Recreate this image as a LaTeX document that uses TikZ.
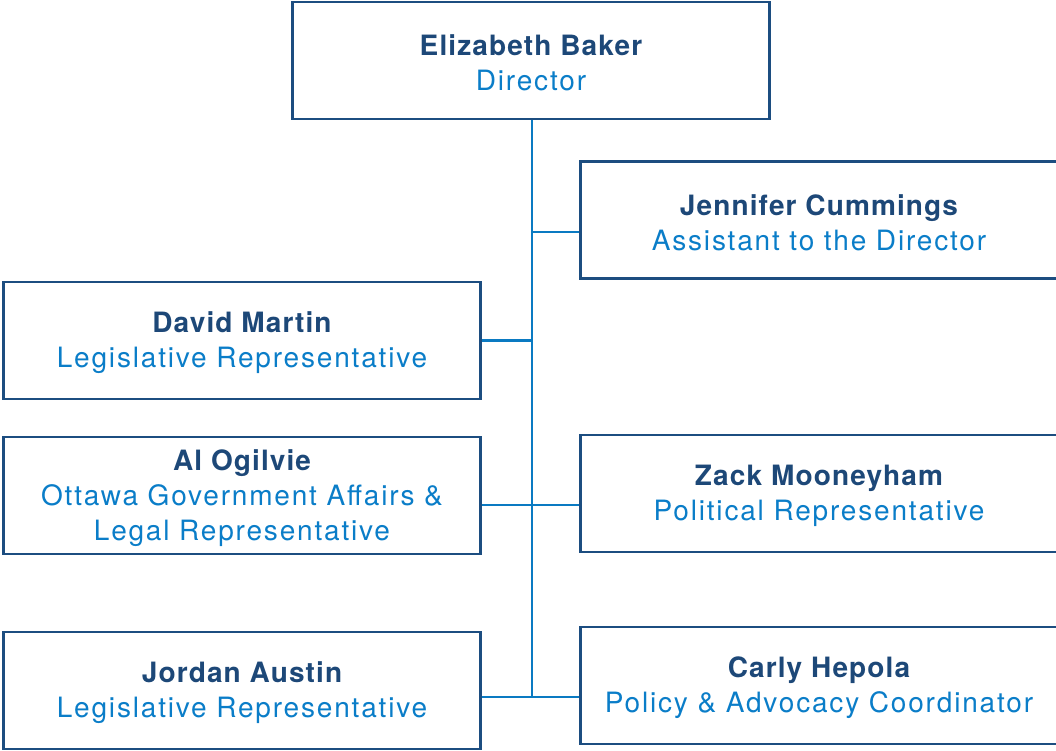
\documentclass[tikz,border=0pt]{standalone}
\usepackage{fontspec}
\setmainfont{TeX Gyre Heros}
\newfontfamily\namefont{TeX Gyre Heros}[LetterSpace=4]
\newfontfamily\titlefont{TeX Gyre Heros}[LetterSpace=6.5]
\definecolor{boxblue}{HTML}{1C4D80}
\definecolor{namecol}{HTML}{1D4878}
\definecolor{titlecol}{HTML}{0A7DC8}
\definecolor{linecol}{HTML}{0A7AC2}
\tikzset{
  person/.style={draw=boxblue, line width=2.5pt, rectangle, minimum width=477pt,
    minimum height=117pt, inner sep=0pt, align=center,
    font=\fontsize{28}{35}\selectfont},
  link/.style={draw=linecol, line width=2.3pt}
}
\newcommand{\pname}[1]{{\namefont\bfseries\color{namecol}\rule{0pt}{26pt}#1}}
\newcommand{\ptitle}[1]{{\titlefont\color{titlecol}#1}}
\begin{document}
\begin{tikzpicture}[x=1pt,y=-1pt]
\useasboundingbox (0,0) rectangle (1056,750);
\node[person] (dir) at (531,60.5) {\pname{Elizabeth Baker}\\\ptitle{Director}};
\node[person] (jen) at (819,220) {\pname{Jennifer Cummings}\\\ptitle{Assistant to the Director}};
\node[person] (dav) at (242,340.5) {\pname{David Martin}\\\ptitle{Legislative Representative}};
\node[person] (al) at (242,495.5) {\pname{Al Ogilvie}\\\ptitle{Ottawa Government Affairs \&}\\\ptitle{Legal Representative}};
\node[person] (zac) at (819,493.5) {\pname{Zack Mooneyham}\\\ptitle{Political Representative}};
\node[person] (jor) at (242,690.5) {\pname{Jordan Austin}\\\ptitle{Legislative Representative}};
\node[person] (car) at (819,685.5) {\pname{Carly Hepola}\\\ptitle{Policy \& Advocacy Coordinator}};
\coordinate (t1) at (532,232);
\coordinate (t2) at (532,340.5);
\coordinate (t3) at (532,505);
\coordinate (t4) at (532,697);
\draw[link] (dir.south -| t1) -- (t4);
\draw[link] (t1) -- (jen.west |- t1);
\draw[link] (t2) -- (dav.east |- t2);
\draw[link] (al.east |- t3) -- (zac.west |- t3);
\draw[link] (jor.east |- t4) -- (car.west |- t4);
\end{tikzpicture}
\end{document}
